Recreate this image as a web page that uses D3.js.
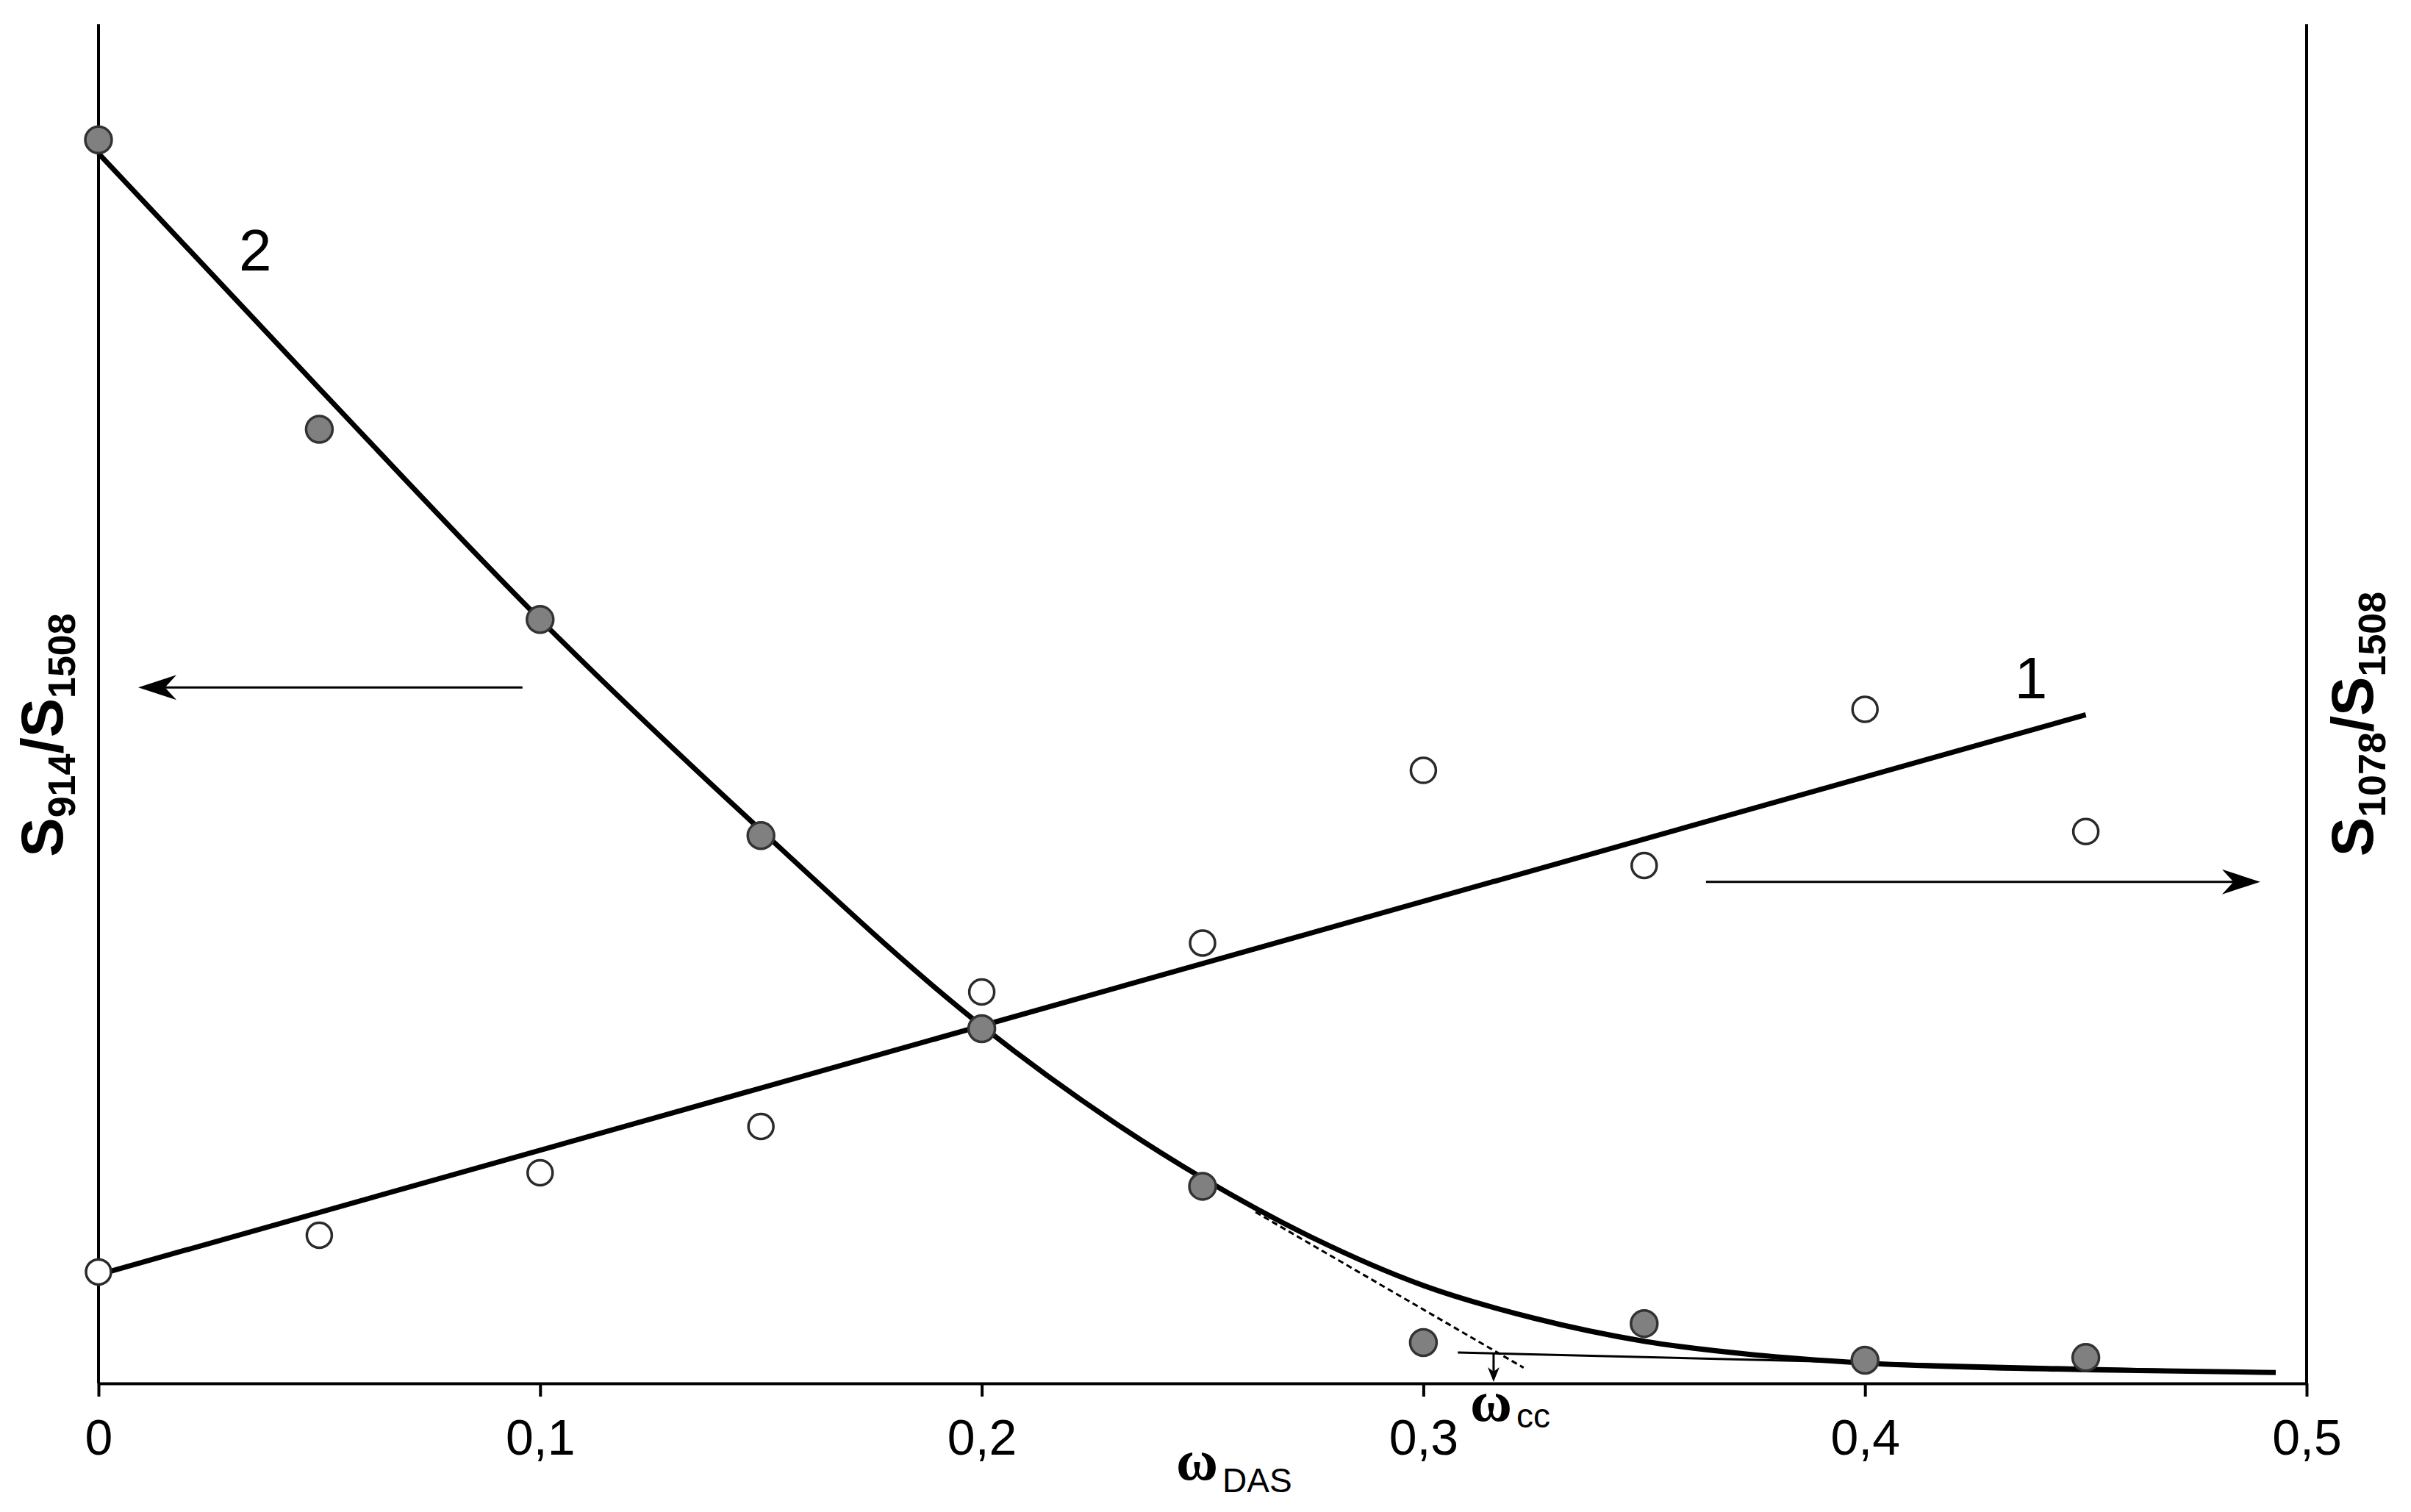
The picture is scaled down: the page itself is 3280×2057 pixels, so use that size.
<!DOCTYPE html>
<html>
<head>
<meta charset="utf-8">
<script src="https://cdn.jsdelivr.net/npm/d3@7"></script>
<style>
  html, body { margin: 0; padding: 0; background: #fff; }
  svg { display: block; }
  text { font-family: "Liberation Sans", Arial, sans-serif; fill: #000; }
</style>
</head>
<body>
<svg id="chart" width="3280" height="2057"></svg>
<script>
// ---------- data ----------
const xTicks = [0, 0.1, 0.2, 0.3, 0.4, 0.5];
const xTickLabels = ["0", "0,1", "0,2", "0,3", "0,4", "0,5"];

// series 2 (filled markers, left axis S914/S1508)
const s2X = [0, 0.05, 0.10, 0.15, 0.20, 0.25, 0.30, 0.35, 0.40, 0.45];
const s2Y = [0.915, 0.702, 0.562, 0.403, 0.261, 0.145, 0.030, 0.044, 0.017, 0.019];
// fitted curve 2
const fit2X = [0, 0.05, 0.10, 0.15, 0.20, 0.25, 0.275, 0.30, 0.325, 0.35, 0.375, 0.40, 0.45, 0.493];
const fit2Y = [0.905, 0.732, 0.562, 0.407, 0.263, 0.151, 0.107, 0.072, 0.048, 0.031, 0.021, 0.015, 0.010, 0.008];

// series 1 (open markers, right axis S1078/S1508)
const s1X = [0, 0.05, 0.10, 0.15, 0.20, 0.25, 0.30, 0.35, 0.40, 0.45];
const s1Y = [0.082, 0.109, 0.155, 0.189, 0.288, 0.324, 0.451, 0.381, 0.496, 0.406];
// fitted straight line 1
const fit1X = [0, 0.45];
const fit1Y = [0.080, 0.492];

// tangent construction for omega_cc
const tangentX = [0.262, 0.3227];
const tangentY = [0.126, 0.0115];
const baseTanX = [0.3078, 0.493];
const baseTanY = [0.0227, 0.008];
const omegaCC = 0.3159;

// ---------- layout ----------
const svg = d3.select("#chart");
const x = d3.scaleLinear().domain([0, 0.5]).range([134, 3138]);
const yL = d3.scaleLinear().domain([0, 1]).range([1882, 33]);
const yR = d3.scaleLinear().domain([0, 1]).range([1882, 33]);

// axes lines (left & right)
svg.append("line").attr("x1", x(0)).attr("x2", x(0)).attr("y1", yL(1)).attr("y2", yL(0))
  .attr("stroke", "#000").attr("stroke-width", 4);
svg.append("line").attr("x1", x(0.5)).attr("x2", x(0.5)).attr("y1", yR(1)).attr("y2", yR(0))
  .attr("stroke", "#000").attr("stroke-width", 4);

// bottom axis
const xAxis = d3.axisBottom(x)
  .tickValues(xTicks)
  .tickFormat((d, i) => xTickLabels[i])
  .tickSize(18)
  .tickSizeOuter(0)
  .tickPadding(31);
const gx = svg.append("g").attr("transform", `translate(0,${yL(0)})`).call(xAxis);
gx.select(".domain").attr("stroke", "#000").attr("stroke-width", 4);
gx.selectAll(".tick line").attr("stroke", "#000").attr("stroke-width", 4);
gx.selectAll(".tick text").attr("font-size", 68).attr("font-family", "'Liberation Sans', Arial, sans-serif").attr("fill", "#000");

// ---------- lines ----------
const line2 = d3.line().x((d) => x(d[0])).y((d) => yL(d[1])).curve(d3.curveMonotoneX);
svg.append("path").datum(fit2X.map((v, i) => [v, fit2Y[i]]))
  .attr("d", line2).attr("fill", "none").attr("stroke", "#000").attr("stroke-width", 7);

const line1 = d3.line().x((d) => x(d[0])).y((d) => yR(d[1]));
svg.append("path").datum(fit1X.map((v, i) => [v, fit1Y[i]]))
  .attr("d", line1).attr("fill", "none").attr("stroke", "#000").attr("stroke-width", 7);

// tangent (dotted) and base line
svg.append("path").datum(tangentX.map((v, i) => [v, tangentY[i]]))
  .attr("d", line1).attr("fill", "none").attr("stroke", "#000").attr("stroke-width", 3)
  .attr("stroke-dasharray", "8,5");
svg.append("path").datum(baseTanX.map((v, i) => [v, baseTanY[i]]))
  .attr("d", line1).attr("fill", "none").attr("stroke", "#000").attr("stroke-width", 3);

// arrow helper
function arrow(x1, y1, x2, y2, len, half, sw) {
  const ang = Math.atan2(y2 - y1, x2 - x1);
  svg.append("line").attr("x1", x1).attr("y1", y1)
    .attr("x2", x2 - Math.cos(ang) * len * 0.6).attr("y2", y2 - Math.sin(ang) * len * 0.6)
    .attr("stroke", "#000").attr("stroke-width", sw);
  const bx = x2 - Math.cos(ang) * len, by = y2 - Math.sin(ang) * len;
  const nx = -Math.sin(ang) * half, ny = Math.cos(ang) * half;
  const mx = x2 - Math.cos(ang) * len * 0.7, my = y2 - Math.sin(ang) * len * 0.7;
  svg.append("path")
    .attr("d", `M${x2},${y2} L${bx + nx},${by + ny} L${mx},${my} L${bx - nx},${by - ny} Z`)
    .attr("fill", "#000");
}
arrow(x(omegaCC), yL(baseTanY[0]), x(omegaCC), yL(0) - 2, 20, 8, 3);

// big direction arrows
arrow(x(0.096), yL(0.512), x(0.009), yL(0.512), 52, 17, 3);
arrow(x(0.364), yR(0.369), x(0.4895), yR(0.369), 52, 17, 3);

// ---------- markers ----------
svg.append("g").selectAll("circle").data(s1X.map((v, i) => [v, s1Y[i]])).join("circle")
  .attr("cx", (d) => x(d[0])).attr("cy", (d) => yR(d[1])).attr("r", 17)
  .attr("fill", "#fff").attr("stroke", "#2a2a2a").attr("stroke-width", 3.5);
svg.append("g").selectAll("circle").data(s2X.map((v, i) => [v, s2Y[i]])).join("circle")
  .attr("cx", (d) => x(d[0])).attr("cy", (d) => yL(d[1])).attr("r", 18)
  .attr("fill", "#808080").attr("stroke", "#333").attr("stroke-width", 3.5);

// ---------- curve labels ----------
svg.append("text").attr("x", x(0.0355)).attr("y", yL(0.819)).attr("text-anchor", "middle")
  .attr("font-size", 80).text("2");
svg.append("text").attr("x", x(0.4376)).attr("y", yR(0.504)).attr("text-anchor", "middle")
  .attr("font-size", 80).text("1");

// ---------- axis titles ----------
function yTitle(tx, ty, parts) {
  const t = svg.append("text").attr("transform", `translate(${tx},${ty}) rotate(-90)`)
    .attr("text-anchor", "middle").attr("font-weight", "bold");
  parts.forEach((p) => {
    const ts = t.append("tspan").text(p.t).attr("font-size", p.sub ? 52 : 80);
    if (p.sub) ts.attr("dy", 17); else ts.attr("dy", p.reset ? -17 : 0);
  });
}
yTitle(85, 1000, [{ t: "S" }, { t: "914", sub: true }, { t: "/S", reset: true }, { t: "1508", sub: true }]);
yTitle(3228, 985, [{ t: "S" }, { t: "1078", sub: true }, { t: "/S", reset: true }, { t: "1508", sub: true }]);

// omega_DAS
const od = svg.append("text").attr("x", 1600).attr("y", 2013);
od.append("tspan").text("ω").attr("font-weight", "bold").attr("font-size", 78)
  .attr("font-family", "'Liberation Serif', 'Times New Roman', serif");
od.append("tspan").text("DAS").attr("font-size", 46).attr("dx", 6).attr("dy", 17);

// omega_cc
const oc = svg.append("text").attr("x", 2000).attr("y", 1933);
oc.append("tspan").text("ω").attr("font-weight", "bold").attr("font-size", 78)
  .attr("font-family", "'Liberation Serif', 'Times New Roman', serif");
oc.append("tspan").text("cc").attr("font-size", 46).attr("dx", 6).attr("dy", 9);
</script>
</body>
</html>
